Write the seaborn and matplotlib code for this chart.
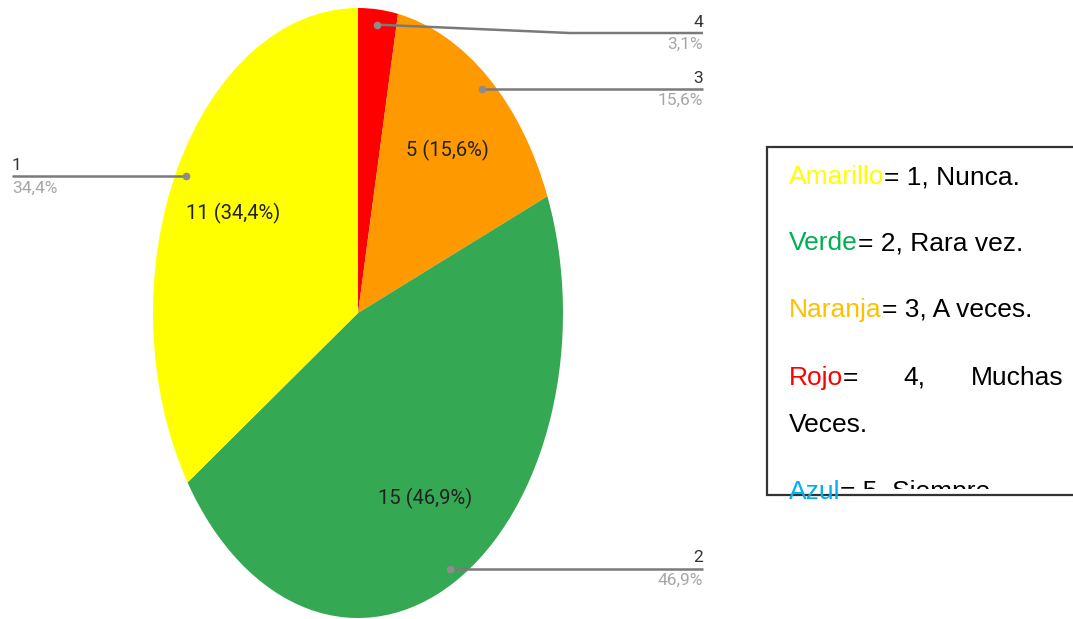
import numpy as np
import matplotlib
matplotlib.use("Agg")
import matplotlib.pyplot as plt
import seaborn as sns
from matplotlib.patches import Rectangle

# datos de la encuesta (en el orden en que aparecen desde las 12, sentido horario)
categorias = ['4', '3', '2', '1']
respuestas = [1, 5, 15, 11]
colores = ['#ff0000', '#ff9900', '#34a853', '#ffff00']

# texto del recuadro de la derecha
leyenda_palabras = ['Amarillo', 'Verde', 'Naranja', 'Rojo', 'Azul']
leyenda_colores = ['#ffff00', '#00b050', '#ffc000', '#ff0000', '#00b0f0']
leyenda_resto = ['= 1, Nunca.', '= 2, Rara vez.', '= 3, A veces.', None, '= 5, Siempre.']

sns.set_style('white')
plt.rcParams['font.family'] = ['Roboto', 'DejaVu Sans']

W, H = 1073, 619
fig = plt.figure(figsize=(W / 100, H / 100), dpi=100)
fig.patch.set_facecolor('white')

total = sum(respuestas)

def fmt_pct(p):
    return f"{p:.1f}".replace('.', ',') + '%'

def autopct(p):
    n = int(round(p * total / 100))
    if p < 5:
        return ''
    return f"{n} ({fmt_pct(p)})"

# la torta esta estirada verticalmente: ejes con aspecto libre
ax = fig.add_axes([153 / W, 1 / H, 410 / W, 610 / H])
wedges, textos, autotextos = ax.pie(respuestas, colors=colores, startangle=90,
                                    counterclock=False, autopct=autopct,
                                    pctdistance=0.69,
                                    wedgeprops=dict(linewidth=0, edgecolor='none'),
                                    textprops=dict(color='#222222', fontsize=14.5))
ax.set_aspect('auto')
ax.set_xlim(-1, 1)
ax.set_ylim(-1, 1)

# lineas guia y etiquetas externas
x_der, x_izq = 1.683, -1.688
for w, cat, val in zip(wedges, categorias, respuestas):
    ang = np.deg2rad((w.theta1 + w.theta2) / 2)
    px, py = 0.95 * np.cos(ang), 0.95 * np.sin(ang)
    ly = min(py, 0.918)
    if px >= 0:
        xs = [px, 1.034, x_der] if ly != py else [px, x_der]
        ys = [py, ly, ly] if ly != py else [py, ly]
        xe, ha = x_der, 'right'
    else:
        xs, ys = [px, x_izq], [py, ly]
        xe, ha = x_izq, 'left'
    ax.plot(xs, ys, color='#7a7a7a', lw=1.8, clip_on=False, solid_capstyle='butt')
    ax.plot(px, py, 'o', color='#8c8c8c', ms=4.5, clip_on=False)
    ax.annotate(cat, (xe, ly), xytext=(0, 2.5), textcoords='offset points',
                ha=ha, va='bottom', fontsize=12.5, color='#333333', annotation_clip=False)
    ax.annotate(fmt_pct(100 * val / total), (xe, ly), xytext=(0, -3),
                textcoords='offset points', ha=ha, va='top', fontsize=12.5,
                color='#a6a6a6', annotation_clip=False)

# recuadro con la explicacion de colores
ax2 = fig.add_axes([0, 0, 1, 1])
ax2.set_xlim(0, W)
ax2.set_ylim(H, 0)
ax2.axis('off')
caja = Rectangle((767, 147), 320, 348, facecolor='white', edgecolor='#333333', lw=1.6)
ax2.add_patch(caja)
clip = Rectangle((767, 147), 320, 342, transform=ax2.transData)

fuente = dict(family=['Liberation Sans', 'Arial', 'DejaVu Sans'], fontsize=19)
bases = [184, 250, 317, 385, 499]
for palabra, col, resto, yb in zip(leyenda_palabras, leyenda_colores, leyenda_resto, bases):
    t1 = ax2.text(789, yb, palabra, color=col, va='baseline', ha='left', **fuente)
    t1.set_clip_path(clip)
    if resto is None:
        # linea justificada del item rojo
        t2 = ax2.annotate('=', (1, 0), xycoords=t1, va='bottom', ha='left',
                          color='black', **fuente)
        ax2.text(903, yb, '4,', va='baseline', ha='left', color='black', **fuente)
        ax2.text(971, yb, 'Muchas', va='baseline', ha='left', color='black', **fuente)
        ax2.text(789, 432, 'Veces.', va='baseline', ha='left', color='black', **fuente)
    else:
        t2 = ax2.annotate(resto, (1, 0), xycoords=t1, va='bottom', ha='left',
                          color='black', **fuente)
    t2.set_clip_path(clip)

fig.savefig('out.png', dpi=100, facecolor='white')
